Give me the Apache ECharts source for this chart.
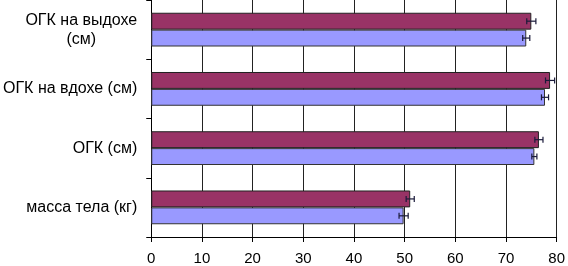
<!DOCTYPE html>
<html><head><meta charset="utf-8">
<script src="https://cdn.jsdelivr.net/npm/echarts@6/dist/echarts.min.js"></script>
<style>html,body{margin:0;padding:0;background:#fff}#c{width:568px;height:266px}</style>
</head><body><div id="c"></div>
<script>
const categories = ['масса тела (кг)', 'ОГК (см)', 'ОГК на вдохе (см)', 'ОГК на выдохе\n(см)'];
const seriesMaroon = [51.1, 76.5, 78.7, 75.0];
const errMaroon = [0.8, 0.8, 0.9, 0.9];
const seriesBlue = [49.8, 75.6, 77.7, 74.0];
const errBlue = [0.9, 0.5, 0.7, 0.7];
const xTicks = [0, 10, 20, 30, 40, 50, 60, 70, 80];

function errData(vals, errs) {
  return vals.map((v, i) => [i, v - errs[i], v + errs[i]]);
}
function errRender(offsetSign) {
  return function (params, api) {
    const cat = api.value(0);
    const lo = api.coord([api.value(1), cat]);
    const hi = api.coord([api.value(2), cat]);
    const band = api.size([0, 1])[1];
    const barH = band * 0.285;
    const y = lo[1] + offsetSign * barH / 2;
    const cap = 3;
    const style = { stroke: '#1a1a3a', lineWidth: 1.2 };
    return {
      type: 'group',
      children: [
        { type: 'line', shape: { x1: lo[0], y1: y, x2: hi[0], y2: y }, style },
        { type: 'line', shape: { x1: lo[0], y1: y - cap, x2: lo[0], y2: y + cap }, style },
        { type: 'line', shape: { x1: hi[0], y1: y - cap, x2: hi[0], y2: y + cap }, style }
      ]
    };
  };
}

const chart = echarts.init(document.getElementById('c'));
chart.setOption({
  animation: false,
  grid: { left: 151, right: 9, top: -2, bottom: 29 },
  xAxis: {
    type: 'value', min: 0, max: 80, interval: 10,
    axisLine: { show: true, lineStyle: { color: '#000', width: 1 } },
    axisTick: { show: true, length: 5, lineStyle: { color: '#000' } },
    axisLabel: { color: '#000', fontFamily: 'Liberation Sans, Arial', fontSize: 15, margin: 14,
      formatter: v => xTicks.includes(v) ? String(v) : '' },
    splitLine: { show: true, lineStyle: { color: '#222', width: 1 } }
  },
  yAxis: {
    type: 'category', data: categories,
    axisLine: { show: true, lineStyle: { color: '#000', width: 1 } },
    axisTick: { show: true, length: 5, lineStyle: { color: '#000' } },
    axisLabel: { color: '#000', fontFamily: 'Liberation Sans, Arial', fontSize: 16, margin: 14, lineHeight: 19, align: 'right',
      formatter: v => v.split('\n').map(s => '{c|' + s + '}').join('\n'),
      rich: { c: { align: 'center', fontSize: 16, lineHeight: 19, fontFamily: 'Liberation Sans, Arial', color: '#000' } } },
    splitLine: { show: false }
  },
  series: [
    { type: 'bar', data: seriesMaroon, barGap: '0%', barCategoryGap: '43%',
      itemStyle: { color: '#993366', borderColor: '#222', borderWidth: 1 } },
    { type: 'bar', data: seriesBlue, barGap: '0%', barCategoryGap: '43%',
      itemStyle: { color: '#9999FF', borderColor: '#333', borderWidth: 1 } },
    { type: 'custom', data: errData(seriesMaroon, errMaroon), renderItem: errRender(-1),
      encode: { y: 0, x: [1, 2] }, z: 10 },
    { type: 'custom', data: errData(seriesBlue, errBlue), renderItem: errRender(1),
      encode: { y: 0, x: [1, 2] }, z: 10 }
  ]
});
</script></body></html>
